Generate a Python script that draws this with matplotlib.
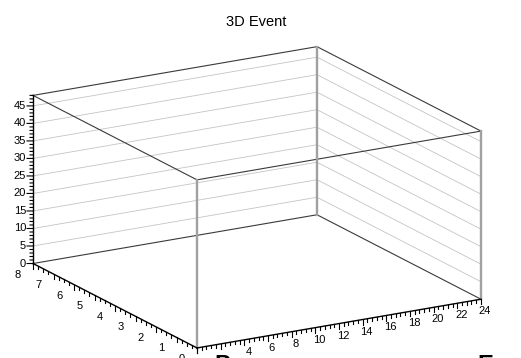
import numpy as np
import matplotlib.pyplot as plt
from matplotlib.transforms import offset_copy

plt.rcParams['font.family'] = ['Liberation Sans', 'DejaVu Sans']

# frame ranges of the event display
x_lim = (0, 24)
y_lim = (0, 8)
z_lim = (0, 48)

# labelled ticks on each axis
x_labels = [4, 6, 8, 10, 12, 14, 16, 18, 20, 22, 24]
y_labels = [0, 1, 2, 3, 4, 5, 6, 7, 8]
z_labels = [0, 5, 10, 15, 20, 25, 30, 35, 40, 45]
grid_z = [5, 10, 15, 20, 25, 30, 35, 40, 45]

fig = plt.figure(figsize=(5.21, 3.58), dpi=100)
ax = fig.add_axes([0.0187, -0.2418, 0.9242, 1.345], projection='3d')
ax.set_proj_type('ortho')
ax.view_init(elev=17.3, azim=-120)
ax.set_box_aspect((1, 1, 0.537))
ax.set_xlim(*x_lim)
ax.set_ylim(*y_lim)
ax.set_zlim(*z_lim)
ax.set_axis_off()

x0, x1 = x_lim
y0, y1 = y_lim
z0, z1 = z_lim

# grid on the two back walls
for z in grid_z:
    ax.plot((x0, x1), (y1, y1), (z, z), color='#c4c4c4', lw=0.6)
    ax.plot((x1, x1), (y0, y1), (z, z), color='#c4c4c4', lw=0.6)

# box outline
dark = '#3a3a3a'
for ex, ey, ez in [((x0, x1), (y1, y1), (z0, z0)), ((x1, x1), (y0, y1), (z0, z0)),
                   ((x0, x1), (y0, y0), (z1, z1)), ((x0, x0), (y0, y1), (z1, z1)),
                   ((x0, x1), (y1, y1), (z1, z1)), ((x1, x1), (y0, y1), (z1, z1))]:
    ax.plot(ex, ey, ez, color=dark, lw=0.8)
for vx, vy in [(x0, y0), (x1, y0), (x1, y1)]:
    ax.plot((vx, vx), (vy, vy), (z0, z1), color='#a0a0a0', lw=1.7)

# axis lines
ax.plot((x0, x1), (y0, y0), (z0, z0), color='k', lw=1.0)
ax.plot((x0, x0), (y0, y1), (z0, z0), color='k', lw=1.0)
ax.plot((x0, x0), (y1, y1), (z0, z1), color='k', lw=1.0)

# ticks hanging below the floor axes
for x in np.arange(x0, x1 + 0.01, 0.4):
    major = abs(x / 2 - round(x / 2)) < 1e-6
    ax.plot((x, x), (y0, y0), (z0, z0 - (1.45 if major else 0.85)), color='k', lw=0.8)
for y in np.arange(y0, y1 + 0.01, 0.25):
    major = abs(y - round(y)) < 1e-6
    ax.plot((x0, x0), (y, y), (z0, z0 - (1.45 if major else 0.85)), color='k', lw=0.8)

# z ticks pointing left, horizontal on screen
for z in range(z0, z1 + 1):
    f = 0.38 if z % 5 == 0 else 0.19
    ax.plot((x0, x0 - f), (y1, y1 + 0.194 * f), (z, z), color='k', lw=0.8)

tx = offset_copy(ax.transData, fig=fig, x=4, y=-12, units='dots')
ty = offset_copy(ax.transData, fig=fig, x=-15, y=-11, units='dots')
tz = offset_copy(ax.transData, fig=fig, x=-7, y=0, units='dots')
for v in x_labels:
    ax.text(v, y0, z0, str(v), transform=tx, ha='center', va='center',
            fontsize=8, rotation=5)
for v in y_labels:
    ax.text(x0, v, z0, str(v), transform=ty, ha='center', va='center', fontsize=8)
for v in z_labels:
    ax.text(x0, y1, v, str(v), transform=tz, ha='right', va='center', fontsize=8)

fig.text(0.4925, 0.9385, '3D Event', ha='center', va='center', fontsize=10.5)

# axis titles sitting below the visible area
fig.text(214 / 521, -0.04, 'P', fontsize=17, fontweight='bold', ha='left', va='baseline')
fig.text(477 / 521, -0.04, 'E', fontsize=17, fontweight='bold', ha='left', va='baseline')

fig.savefig('out.png', dpi=100)
